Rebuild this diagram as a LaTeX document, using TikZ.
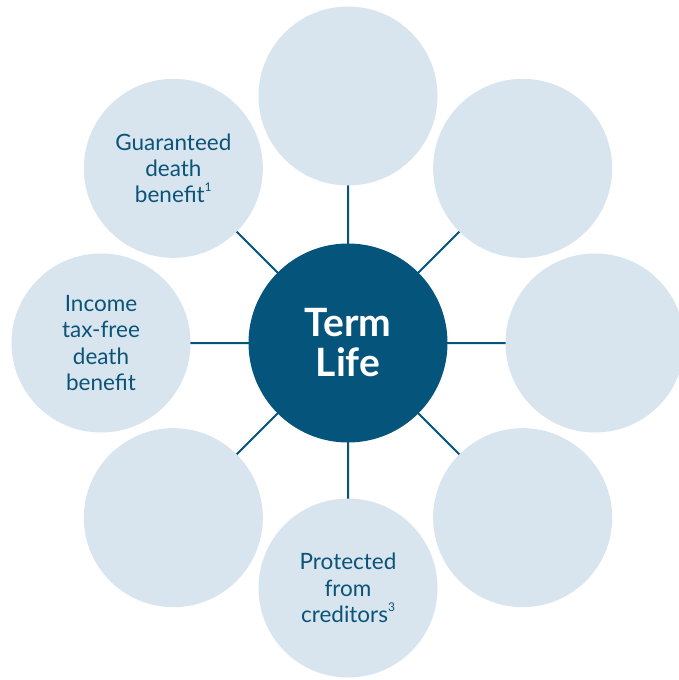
\documentclass[tikz,border=0pt]{standalone}
\usepackage{fontspec}
\usetikzlibrary{calc}
\setmainfont{Lato}
\definecolor{navy}{HTML}{04547C}
\definecolor{pale}{HTML}{D8E4EE}
\definecolor{txt}{HTML}{0B5479}
\newcommand{\supnum}[1]{\raisebox{0.5em}{\fontsize{12}{12}\selectfont #1}}
\begin{document}
\begin{tikzpicture}[x=1pt,y=-1pt,
  outer/.style={circle,fill=pale,minimum size=179pt,inner sep=0pt,text=txt,align=center,
    font=\fontsize{22.5}{26.3}\selectfont},
  hub/.style={circle,fill=navy,minimum size=199pt,inner sep=0pt,text=white,align=center,
    font=\bfseries\fontsize{39}{40}\selectfont},
  link/.style={draw=navy,line width=2pt}]
\useasboundingbox (0,0) rectangle (678,680);
\coordinate (c) at (348,343);
\foreach \n/\a in {t/-90,tr/-45,r/0,br/45,b/90,bl/135,l/180,tl/-135}
  \coordinate (p\n) at ($(c)+(\a:247)$);
\path[link] (c) -- (pt) (c) -- (ptr) (c) -- (pr) (c) -- (pbr)
  (c) -- (pb) (c) -- (pbl) (c) -- (pl) (c) -- (ptl);
\node[outer] (t) at (pt) {};
\node[outer] (tr) at (ptr) {};
\node[outer] (r) at (pr) {};
\node[outer] (br) at (pbr) {};
\node[outer] (bl) at (pbl) {};
\node[outer] (tl) at (ptl) {Guaranteed\\death\\benefit\supnum{1}};
\node[outer] (l) at (pl) {Income\\tax-free\\death\\benefit};
\node[outer] (b) at ($(pb)+(0,-2)$) {Protected\\from\\creditors\supnum{3}};
\node[hub] (hub) at (c) {Term\\Life};
\end{tikzpicture}
\end{document}
